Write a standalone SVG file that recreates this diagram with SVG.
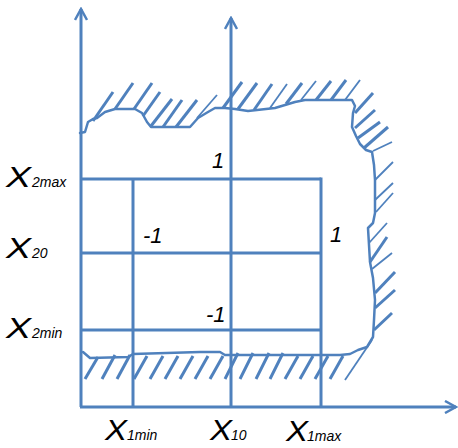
<svg xmlns="http://www.w3.org/2000/svg" width="458" height="448" viewBox="0 0 458 448">
<style>
.ax{stroke:#4f81bd;stroke-width:3;fill:none}
.gr{stroke:#4f81bd;stroke-width:3;fill:none}
.bd{stroke:#4f81bd;stroke-width:2.5;fill:none;stroke-linejoin:round;stroke-linecap:round}
.h{stroke:#4f81bd;stroke-width:3;fill:none;stroke-linecap:butt}
.ht{stroke:#4f81bd;stroke-width:1.8;fill:none}
.X{font-family:"Liberation Sans",Arial,sans-serif;font-style:italic;font-size:29px;fill:#000}
.s{font-family:"Liberation Sans",Arial,sans-serif;font-style:italic;font-size:14px;fill:#000}
.n{font-family:"Liberation Sans",Arial,sans-serif;font-style:italic;font-size:22px;fill:#000}
</style>
<defs>
<marker id="arr" viewBox="0 0 14 14" refX="12" refY="7" markerWidth="14" markerHeight="14" markerUnits="userSpaceOnUse" orient="auto">
<path d="M1,1 L12,7 L1,13" fill="none" stroke="#4f81bd" stroke-width="2.5"/>
</marker>
</defs>
<g id="axes">
<line class="ax" x1="81" y1="407" x2="81" y2="9" marker-end="url(#arr)"/>
<line class="ax" x1="231" y1="407" x2="231" y2="18" marker-end="url(#arr)"/>
<line class="ax" x1="80" y1="407" x2="456" y2="407" marker-end="url(#arr)"/>
</g>
<g id="grid">
<line class="gr" x1="81" y1="179" x2="321" y2="179"/>
<line class="gr" x1="81" y1="253" x2="321" y2="253"/>
<line class="gr" x1="81" y1="330" x2="321" y2="330"/>
<line class="gr" x1="133" y1="179" x2="133" y2="407"/>
<line class="gr" x1="321" y1="177.5" x2="321" y2="407"/>
</g>
<g id="boundary">
<path class="bd" d="M80,133 L85,132 L88,122 L93,119 L97,118 L105,112 L115,109 L135,109 L142,113 L147,122 L151,127 L190,127 L198,118 L208,112 L215,108 L225,108 L235,109 L248,111 L275,108 L295,102 L305,100 L352,100 L355,106 L353,113 L352,127 L356,136 L360,144 L366,150 L372,152 L374,165 L375,180 L375,213 L373,223 L368,228 L369,245 L370,262 L373,278 L375,300 L374,320 L373,337 L367,347 L358,350 L350,354 L340,355 L298,355 L225,355 L220,352 L200,352 L133,354 L128,357 L90,358 L83,352"/>
</g>
<g id="hatch-top">
<line class="h" x1="93" y1="121" x2="113" y2="92"/>
<line class="h" x1="115" y1="109" x2="133" y2="83"/>
<line class="h" x1="134" y1="109" x2="152" y2="83"/>
<line class="h" x1="143" y1="116" x2="160" y2="92"/>
<line class="h" x1="151" y1="126" x2="172" y2="99"/>
<line class="h" x1="163" y1="127" x2="182" y2="100"/>
<line class="h" x1="176" y1="127" x2="197" y2="100"/>
<line class="ht" x1="197" y1="118" x2="217" y2="95"/>
<line class="h" x1="223" y1="108" x2="242" y2="82"/>
<line class="h" x1="238" y1="109" x2="257" y2="83"/>
<line class="h" x1="254" y1="110" x2="272" y2="84"/>
<line class="ht" x1="270" y1="108" x2="287" y2="84"/>
<line class="h" x1="286" y1="104" x2="302" y2="83"/>
<line class="ht" x1="301" y1="100" x2="316" y2="81"/>
<line class="h" x1="316" y1="100" x2="331" y2="81"/>
<line class="h" x1="331" y1="100" x2="346" y2="80"/>
<line class="ht" x1="345" y1="100" x2="360" y2="80"/>
</g>
<g id="hatch-right">
<line class="h" x1="355" y1="113" x2="373" y2="93"/>
<line class="h" x1="355" y1="128" x2="375" y2="110"/>
<line class="h" x1="358" y1="138" x2="380" y2="122"/>
<line class="h" x1="364" y1="148" x2="388" y2="127"/>
<line class="ht" x1="373" y1="151" x2="392" y2="142"/>
<line class="ht" x1="375" y1="180" x2="393" y2="162"/>
<line class="ht" x1="375" y1="200" x2="393" y2="183"/>
<line class="ht" x1="376" y1="212" x2="393" y2="193"/>
<line class="ht" x1="369" y1="243" x2="387" y2="223"/>
<line class="h" x1="370" y1="262" x2="387" y2="237"/>
<line class="ht" x1="372" y1="269" x2="392" y2="253"/>
<line class="h" x1="375" y1="293" x2="395" y2="272"/>
<line class="h" x1="375" y1="308" x2="395" y2="290"/>
<line class="h" x1="374" y1="330" x2="392" y2="313"/>
</g>
<g id="hatch-bottom">
<line class="h" x1="85" y1="379" x2="98" y2="357"/>
<line class="h" x1="102" y1="379" x2="115" y2="355"/>
<line class="h" x1="117" y1="379" x2="130" y2="355"/>
<line class="h" x1="134" y1="379" x2="147" y2="356"/>
<line class="h" x1="150" y1="379" x2="163" y2="356"/>
<line class="h" x1="165" y1="379" x2="178" y2="356"/>
<line class="h" x1="180" y1="379" x2="193" y2="356"/>
<line class="h" x1="195" y1="379" x2="208" y2="356"/>
<line class="h" x1="210" y1="379" x2="223" y2="356"/>
<line class="h" x1="225" y1="379" x2="238" y2="353"/>
<line class="h" x1="240" y1="379" x2="253" y2="353"/>
<line class="h" x1="256" y1="379" x2="269" y2="353"/>
<line class="h" x1="270" y1="379" x2="283" y2="353"/>
<line class="h" x1="285" y1="379" x2="298" y2="356"/>
<line class="h" x1="300" y1="379" x2="313" y2="356"/>
<line class="h" x1="315" y1="379" x2="328" y2="356"/>
<line class="h" x1="330" y1="379" x2="343" y2="356"/>
<line class="ht" x1="345" y1="380" x2="372" y2="340"/>
</g>
<g id="labels">
<text class="X" x="6" y="187" textLength="25" lengthAdjust="spacingAndGlyphs">X</text><text class="s" x="32" y="187">2max</text>
<text class="X" x="6" y="258" textLength="25" lengthAdjust="spacingAndGlyphs">X</text><text class="s" x="32" y="258">20</text>
<text class="X" x="6" y="338" textLength="25" lengthAdjust="spacingAndGlyphs">X</text><text class="s" x="32" y="338">2min</text>
<text class="X" x="105" y="440" textLength="22" lengthAdjust="spacingAndGlyphs">X</text><text class="s" x="127" y="440">1min</text>
<text class="X" x="210" y="440" textLength="22" lengthAdjust="spacingAndGlyphs">X</text><text class="s" x="231" y="440">10</text>
<text class="X" x="286" y="441" textLength="22" lengthAdjust="spacingAndGlyphs">X</text><text class="s" x="307" y="441">1max</text>
<text class="n" x="212" y="168">1</text>
<text class="n" x="143" y="243">-1</text>
<text class="n" x="330" y="242">1</text>
<text class="n" x="206" y="322">-1</text>
</g>
</svg>
